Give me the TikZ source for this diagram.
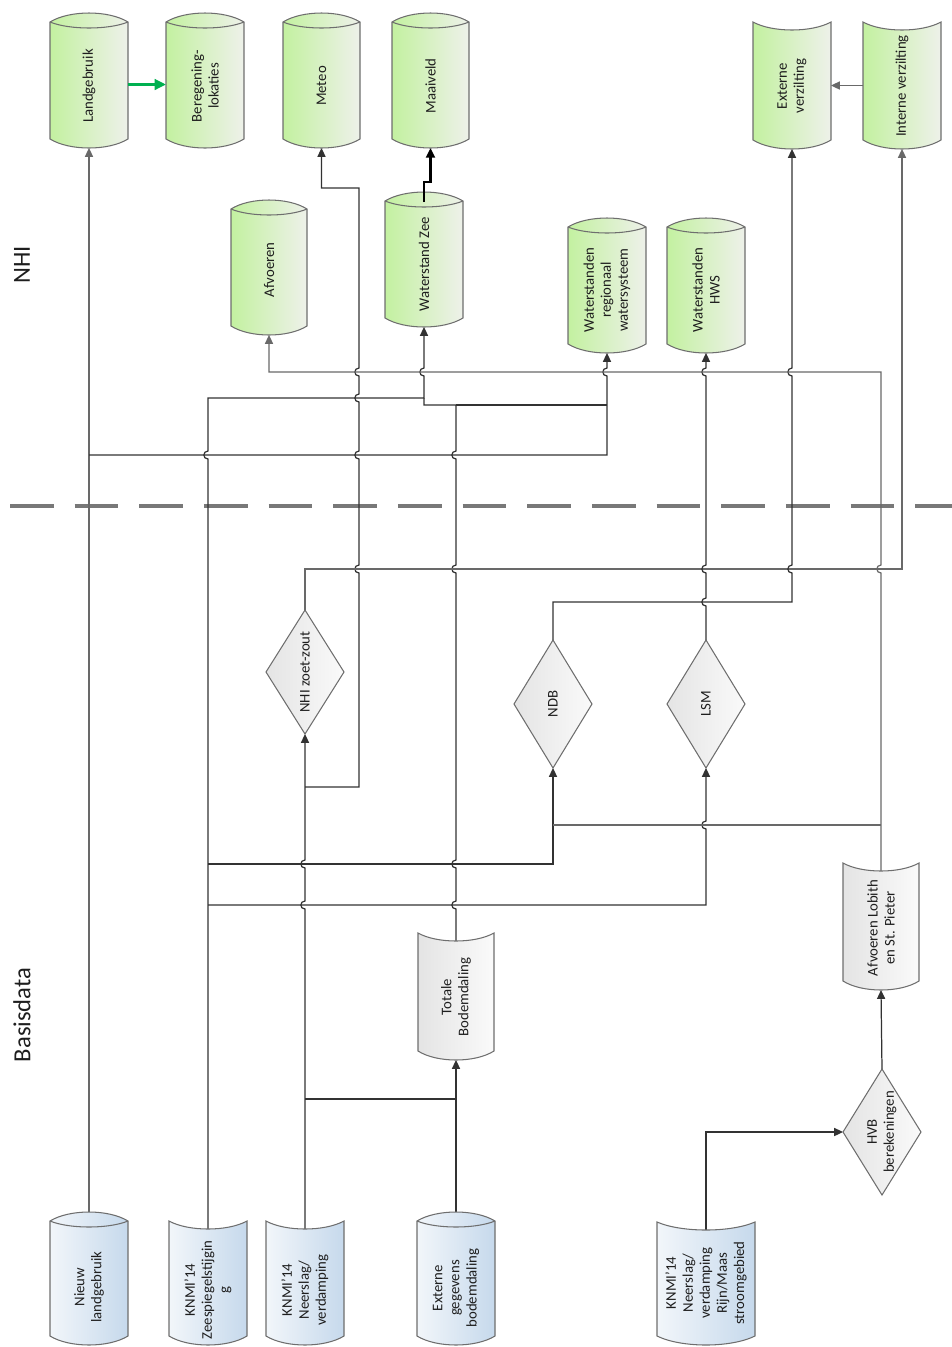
\documentclass[tikz,border=0pt]{standalone}
\usepackage{fontspec}
\setmainfont{Carlito}
\usetikzlibrary{arrows.meta,fit,backgrounds}
\definecolor{gL}{RGB}{195,241,160}
\definecolor{gR}{RGB}{238,241,234}
\definecolor{bL}{RGB}{242,246,250}
\definecolor{bR}{RGB}{198,217,236}
\definecolor{yL}{RGB}{228,228,228}
\definecolor{yR}{RGB}{250,250,250}
\definecolor{outl}{RGB}{110,110,110}
\definecolor{ln}{RGB}{50,50,50}
\definecolor{lng}{RGB}{105,105,105}
\definecolor{txt}{RGB}{30,30,30}
\definecolor{grn}{RGB}{0,176,80}
\definecolor{dash}{RGB}{120,120,120}
\tikzset{
  shapeline/.style={draw=outl, line width=0.6pt},
  greenfill/.style={left color=gL, right color=gR},
  bluefill/.style={left color=bL, right color=bR},
  grayfill/.style={left color=yL, right color=yR},
  boxfit/.style={inner sep=0pt, outer sep=0pt},
  lbl/.style={rotate=90, align=center, text=txt, font=\fontsize{8.4}{9.7}\selectfont, inner sep=0pt},
  biglbl/.style={rotate=90, text=txt, font=\fontsize{14}{16}\selectfont},
  conn/.style={draw=ln, line width=0.7pt},
  gconn/.style={draw=lng, line width=0.7pt},
  arr/.style={-{Triangle[length=5pt,width=4.6pt]}},
  sepline/.style={draw=dash, line width=2pt, dash pattern=on 24.9pt off 11.9pt},
}
% hop: vertical line going upward jumps over a horizontal line at y=#2
\newcommand{\hp}[2]{-- (#1,#2+4) .. controls (#1-5.5,#2+4) and (#1-5.5,#2-4) .. (#1,#2-4)}
\newcommand{\cylnode}[6]{%
  \coordinate (#1-a) at (#2,#3); \coordinate (#1-b) at (#4,#5);
  \node[fit=(#1-a)(#1-b), boxfit] (#1) {};
  \path[shapeline,#6] (#2,#3+9) -- (#2,#5-9) .. controls ({#2+0.25*(#4-#2)},#5+3) and ({#4-0.25*(#4-#2)},#5+3) .. (#4,#5-9) -- (#4,#3+9) .. controls ({#4-0.25*(#4-#2)},#3-3) and ({#2+0.25*(#4-#2)},#3-3) .. cycle;
  \draw[shapeline] (#2,#3+9) .. controls ({#2+0.25*(#4-#2)},#3+17) and ({#4-0.25*(#4-#2)},#3+17) .. (#4,#3+9);
}
\newcommand{\docnode}[6]{%
  \coordinate (#1-a) at (#2,#3); \coordinate (#1-b) at (#4,#5);
  \node[fit=(#1-a)(#1-b), boxfit] (#1) {};
  \path[shapeline,#6] (#2,#3) .. controls ({#2+0.25*(#4-#2)},#3+10.67) and ({#4-0.25*(#4-#2)},#3+10.67) .. (#4,#3) -- (#4,#5-9) .. controls ({#4-0.25*(#4-#2)},#5+3) and ({#2+0.25*(#4-#2)},#5+3) .. (#2,#5-9) -- cycle;
}
\newcommand{\dianode}[6]{%
  \coordinate (#1-a) at (#2-#4,#3-#5); \coordinate (#1-b) at (#2+#4,#3+#5);
  \node[fit=(#1-a)(#1-b), boxfit] (#1) {};
  \path[shapeline,#6] (#2,#3-#5) -- (#2+#4,#3) -- (#2,#3+#5) -- (#2-#4,#3) -- cycle;
}
\begin{document}
\begin{tikzpicture}[x=0.02cm,y=-0.02cm]
\useasboundingbox (0,0) rectangle (952,1347);

% ---------- shapes: NHI ----------
\cylnode{landg}{50}{13}{128}{148}{greenfill}
\cylnode{bereg}{166}{13}{244}{148}{greenfill}
\cylnode{meteo}{283}{13}{360}{148}{greenfill}
\cylnode{maai}{392}{13}{469}{148}{greenfill}
\docnode{ev}{753}{22}{831}{149}{greenfill}
\docnode{iv}{863}{22}{941}{149}{greenfill}
\cylnode{afv}{231}{200}{307}{335}{greenfill}
\cylnode{wz}{385}{192}{463}{327}{greenfill}
\cylnode{wreg}{568}{218}{646}{353}{greenfill}
\cylnode{whws}{667}{218}{745}{353}{greenfill}

% ---------- shapes: Basisdata ----------
\dianode{nzz}{305}{672}{39}{62}{grayfill}
\dianode{ndb}{553}{704}{39}{64}{grayfill}
\dianode{lsm}{706}{704}{39}{64}{grayfill}
\dianode{hvb}{882}{1132}{39}{63}{grayfill}
\docnode{tb}{418}{933}{494}{1060}{grayfill}
\docnode{lob}{843}{863}{919}{990}{grayfill}
\cylnode{nlg}{50}{1212}{128}{1345}{bluefill}
\docnode{kz}{169}{1221}{247}{1345}{bluefill}
\docnode{kn}{266}{1221}{344}{1345}{bluefill}
\cylnode{eg}{417}{1212}{495}{1345}{bluefill}
\docnode{krm}{657}{1222}{755}{1345}{bluefill}

% ---------- texts ----------
\node[lbl] (landg-t) at (89,86) {Landgebruik};
\node[lbl] (bereg-t) at (205,86) {Beregening-\\lokaties};
\node[lbl] (meteo-t) at (321.5,86) {Meteo};
\node[lbl] (maai-t) at (430.5,86) {Maaiveld};
\node[lbl] (ev-t) at (792,86) {Externe\\verzilting};
\node[lbl] (iv-t) at (902,86) {Interne verzilting};
\node[lbl] (afv-t) at (269,270) {Afvoeren};
\node[lbl] (wz-t) at (424,264) {Waterstand Zee};
\node[lbl] (wreg-t) at (607,290) {Waterstanden\\regionaal\\watersysteem};
\node[lbl] (whws-t) at (706,290) {Waterstanden\\HWS};
\node[lbl] (nzz-t) at (305,672) {NHI zoet-zout};
\node[lbl] (ndb-t) at (553,704) {NDB};
\node[lbl] (lsm-t) at (706,704) {LSM};
\node[lbl] (hvb-t) at (882,1132) {HVB\\berekeningen};
\node[lbl] (tb-t) at (456,997) {Totale\\Bodemdaling};
\node[lbl] (lob-t) at (881,928) {Afvoeren Lobith\\en St. Pieter};
\node[lbl] (nlg-t) at (89,1287) {Nieuw\\landgebruik};
\node[lbl] (kz-t) at (208,1290) {KNMI’14\\Zeespiegelstijgin\\g};
\node[lbl] (kn-t) at (305,1290) {KNMI’14\\Neerslag/\\verdamping};
\node[lbl] (eg-t) at (456,1288) {Externe\\gegevens\\bodemdaling};
\node[lbl] (krm-t) at (706,1283) {KNMI’14\\Neerslag/\\verdamping\\Rijn/Maas\\stroomgebied};

\node[biglbl] (nhi) at (22,265) {NHI};
\node[biglbl] (basis) at (22,1015) {Basisdata};

% ---------- connectors ----------
\begin{pgfonlayer}{background}
\draw[sepline] (10,506) -- (952,506);
% Nieuw landgebruik
\draw[gconn,arr] (nlg.north) -- (landg.south);
\coordinate (j455) at (89,455);
\draw[conn,arr] (j455) -- (607,455) \hp{607}{372} -- (wreg.south);
% KNMI Zeespiegelstijging
\draw[conn,arr] (kz.center) \hp{208}{455} -- (208,398) -- (424,398) \hp{424}{372} -- (wz.south);
\draw[conn,arr] (208,864) -- (553,864) -- (ndb.south);
\draw[conn,arr] (208,905) -- (706,905) \hp{706}{825} -- (lsm.south);
% KNMI Neerslag/verdamping
\draw[conn,arr] (kn.center) \hp{305}{905} \hp{305}{864} -- (nzz.south);
\draw[conn,arr] (305,787) -- (359,787) \hp{359}{569} \hp{359}{455} \hp{359}{398} \hp{359}{372} -- (359,188) -- (321.5,188) -- (meteo.south);
\coordinate (j1099) at (456,1099);
\draw[conn] (305,1099) -- (j1099);
% Externe gegevens bodemdaling
\draw[conn,arr] (eg.north) -- (tb.south);
% Totale bodemdaling
\draw[conn] (tb.center) \hp{456}{905} \hp{456}{864} \hp{456}{569} \hp{456}{455} -- (456,405) -- (424,405) -- (424,398);
\draw[conn] (456,405) -- (607,405);
% NHI zoet-zout
\draw[gconn,arr] (nzz.north) -- (305,569) -- (902,569) -- (iv.south);
% NDB
\draw[conn,arr] (ndb.north) -- (553,602) -- (792,602) \hp{792}{569} \hp{792}{372} -- (ev.south);
% LSM
\draw[conn,arr] (lsm.north) \hp{706}{602} \hp{706}{569} \hp{706}{372} -- (whws.south);
% Afvoeren Lobith
\draw[gconn,arr] (lob.center) \hp{881}{569} -- (881,372) -- (269,372) -- (afv.south);
\draw[gconn] (881,825) -- (553,825);
% Rijn/Maas -> HVB -> Lobith
\draw[conn,arr] (krm.center) -- (706,1132) -- (hvb.west);
\draw[conn,arr] (hvb.north) -- (lob.south);
\end{pgfonlayer}
% top connectors
\draw[draw=grn, line width=1.7pt, -{Triangle[length=6.5pt,width=6pt]}] ([yshift=-0.08cm]landg.east) -- ([yshift=-0.08cm]bereg.west);
\draw[gconn,arr] (iv.west) -- (ev.east);
\draw[draw=black, line width=1.4pt, -{Triangle[length=5.5pt,width=5pt]}] (424,202) -- (424,182) -- (430.5,182) -- (maai.south);
\end{tikzpicture}
\end{document}
